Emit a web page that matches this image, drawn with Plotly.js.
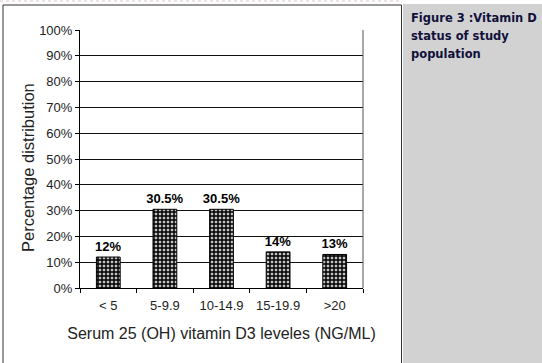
<!DOCTYPE html>
<html>
<head>
<meta charset="utf-8">
<script src="https://cdn.plot.ly/plotly-3.0.1.min.js"></script>
<style>
html,body{margin:0;padding:0;background:#fff;}
#chart{width:542px;height:363px;}
</style>
</head>
<body>
<div id="chart"></div>
<script>
const categories = ["< 5", "5-9.9", "10-14.9", "15-19.9", ">20"];
const percentages = [12, 30.5, 30.5, 14, 13];
const valueLabels = ["12%", "30.5%", "30.5%", "14%", "13%"];
const titleLines = ["Figure 3 :Vitamin D", "status of study", "population"];
const xTitle = "Serum 25 (OH) vitamin D3 leveles (NG/ML)";
const yTitle = "Percentage distribution";

// pixel -> paper helpers (plot area: x 80..363, y 30..288)
const L = 80, R = 363, T = 30, B = 288;
const px = v => (v - L) / (R - L);
const py = v => (B - v) / (B - T);

const trace = {
  type: "bar",
  x: categories,
  y: percentages,
  text: valueLabels,
  textposition: "outside",
  texttemplate: "%{text}",
  constraintext: "none",
  textfont: {family: "Liberation Sans, Arial, sans-serif", size: 13, color: "#000", weight: "bold"},
  cliponaxis: false,
  width: 0.42,
  marker: {
    color: "#c4c4c4",
    line: {color: "#000", width: 1},
    pattern: {shape: "+", fgcolor: "#000", bgcolor: "#c4c4c4", size: 4, solidity: 0.6}
  },
  hoverinfo: "none"
};

const titleAnns = titleLines.map((t, i) => ({
  xref: "paper", yref: "paper",
  x: px(409), y: py(18 + i * 18),
  xanchor: "left", yanchor: "middle",
  text: "<b>" + t + "</b>",
  showarrow: false,
  font: {family: "DejaVu Sans, Verdana, sans-serif", size: 11.5, color: "#10103a"}
}));

const yTitleAnn = {
  xref: "paper", yref: "paper",
  x: px(28), y: py(168),
  xanchor: "center", yanchor: "middle",
  text: yTitle, textangle: -90,
  showarrow: false,
  font: {family: "Liberation Sans, Arial, sans-serif", size: 16.5, color: "#222"}
};

const layout = {
  width: 542, height: 363,
  margin: {l: L, r: 542 - R, t: T, b: 363 - B},
  paper_bgcolor: "#ffffff",
  plot_bgcolor: "#ffffff",
  showlegend: false,
  font: {family: "Liberation Sans, Arial, sans-serif", color: "#222"},
  xaxis: {
    type: "category",
    showline: true, linecolor: "#000", linewidth: 1,
    ticks: "outside", tickson: "boundaries", ticklen: 4, tickcolor: "#000",
    ticklabelstandoff: 5,
    tickfont: {size: 13, color: "#222"},
    showgrid: false,
    title: {text: xTitle, font: {size: 16, color: "#222"}, standoff: 16}
  },
  yaxis: {
    range: [0, 100], dtick: 10, ticksuffix: "%",
    showline: true, linecolor: "#000", linewidth: 1,
    ticks: "outside", ticklen: 4, tickcolor: "#000",
    tickfont: {size: 13, color: "#222"},
    showgrid: true, gridcolor: "#111", gridwidth: 1,
    zeroline: false
  },
  shapes: [
    {type: "rect", xref: "paper", yref: "paper", x0: px(403), x1: px(545), y0: py(366), y1: py(4),
     fillcolor: "#d2d2d2", line: {width: 0}, layer: "below"},
    {type: "rect", xref: "paper", yref: "paper", x0: px(3), x1: px(401.5), y0: py(370), y1: py(5),
     line: {color: "#333", width: 1}, layer: "below"},
    {type: "line", xref: "paper", yref: "paper", x0: px(0), x1: px(401), y0: py(1), y1: py(1),
     line: {color: "#d8c8c8", width: 1, dash: "dot"}},
    {type: "line", xref: "paper", yref: "paper", x0: 1, x1: 1, y0: 0, y1: 1,
     line: {color: "#555", width: 1}}
  ],
  annotations: titleAnns.concat([yTitleAnn])
};

Plotly.newPlot("chart", [trace], layout, {displayModeBar: false, staticPlot: true});
</script>
</body>
</html>
